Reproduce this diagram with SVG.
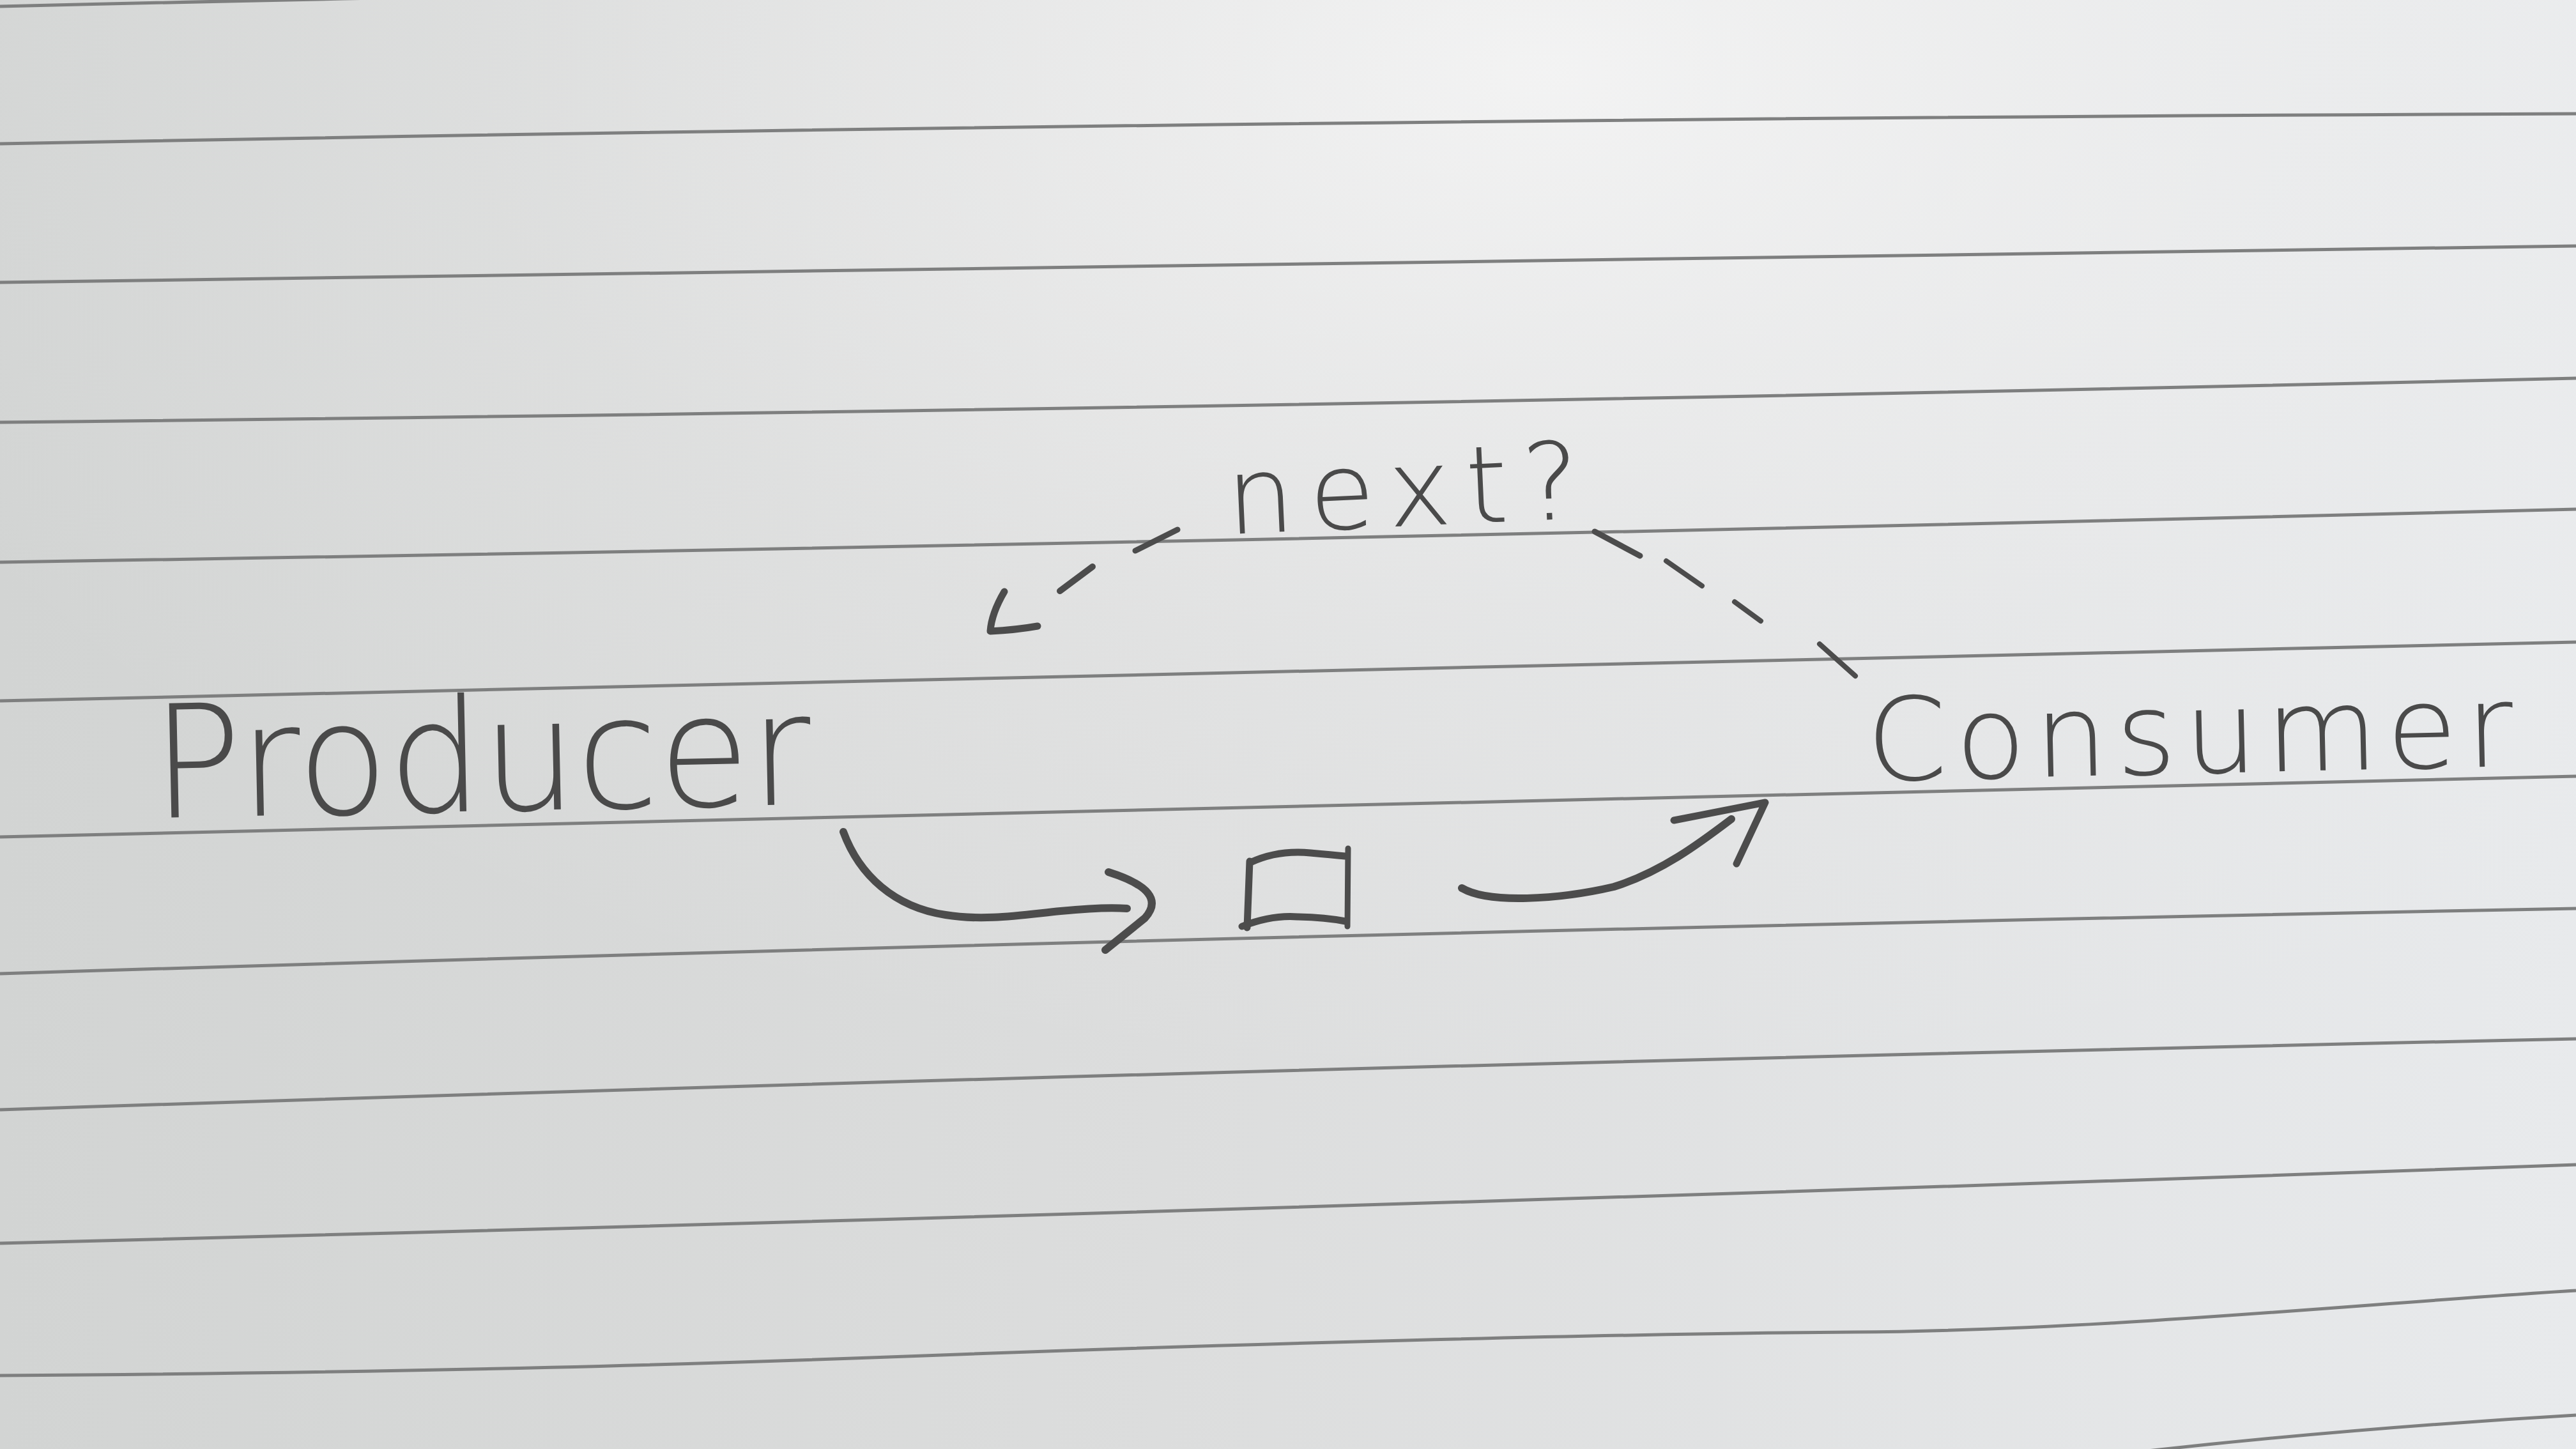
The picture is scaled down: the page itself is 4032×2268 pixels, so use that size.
<svg xmlns="http://www.w3.org/2000/svg" width="4032" height="2268" viewBox="0 0 4032 2268">
  <defs>
    <linearGradient id="paper" x1="0" y1="0" x2="1" y2="0">
      <stop offset="0" stop-color="#d2d4d3"/>
      <stop offset="0.45" stop-color="#dcdddd"/>
      <stop offset="1" stop-color="#e8eaec"/>
    </linearGradient>
    <radialGradient id="glow" cx="0.6" cy="0.05" r="0.7">
      <stop offset="0" stop-color="#f6f6f6" stop-opacity="0.85"/>
      <stop offset="0.6" stop-color="#f0f0f0" stop-opacity="0.25"/>
      <stop offset="1" stop-color="#f0f0f0" stop-opacity="0"/>
    </radialGradient>
  </defs>
  <style>
    .rule { fill: none; stroke: #7e7f7f; stroke-width: 5; }
    .pencil { fill: none; stroke: #4c4c4c; stroke-linecap: round; stroke-linejoin: round; }
    .hand { font-family: "DejaVu Sans", "Liberation Sans", sans-serif; font-weight: 200; fill: #4a4a4a; }
  </style>

  <rect x="0" y="0" width="4032" height="2268" fill="url(#paper)"/>
  <rect x="0" y="0" width="4032" height="2268" fill="url(#glow)"/>

  <g id="ruled-lines">
    <path class="rule" d="M0,10 Q2016,-38 4032,-38"/>
    <path class="rule" d="M0,225 Q2016,186 4032,178"/>
    <path class="rule" d="M0,442 Q2016,414 4032,385"/>
    <path class="rule" d="M0,661 Q2016,640 4032,592"/>
    <path class="rule" d="M0,880 Q2016,848 4032,797"/>
    <path class="rule" d="M0,1097 Q2016,1053 4032,1005"/>
    <path class="rule" d="M0,1310 Q2016,1254 4032,1215"/>
    <path class="rule" d="M0,1524 Q2016,1461 4032,1422"/>
    <path class="rule" d="M0,1737 Q2016,1670 4032,1626"/>
    <path class="rule" d="M0,1946 Q2016,1895 4032,1823"/>
    <path class="rule" d="M0,2153 C700,2148 1100,2135 1500,2120 S2500,2088 2900,2085 S3700,2040 4032,2020"/>
    <path class="rule" d="M3200,2290 Q3600,2240 4032,2215"/>
  </g>

  <g id="producer">
    <text class="hand" x="240" y="1280" font-size="245" textLength="1031" lengthAdjust="spacingAndGlyphs" transform="rotate(-1.2 240 1280)">Producer</text>
  </g>

  <g id="consumer">
    <text class="hand" x="2923" y="1222" font-size="180" textLength="1012" lengthAdjust="spacing" transform="rotate(-1.3 2923 1222)">Consumer</text>
  </g>

  <g id="item">
    <path class="pencil" stroke-width="11" d="M1956,1348 L1952,1452"/>
    <path class="pencil" stroke-width="11" d="M1957,1350 Q2000,1330 2051,1335 Q2085,1338 2105,1340"/>
    <path class="pencil" stroke-width="9" d="M2110,1328 L2109,1450"/>
    <path class="pencil" stroke-width="11" d="M1944,1450 Q1990,1432 2031,1435 Q2075,1436 2106,1442"/>
  </g>

  <g id="next-label">
    <text class="hand" x="1922" y="836" font-size="168" textLength="553" lengthAdjust="spacing" transform="rotate(-2.6 1922 836)">next?</text>
  </g>

  <g id="connectors">
    <g id="next-arrow">
      <path class="pencil" stroke-width="8" d="M2904,1058 L2848,1008"/>
      <path class="pencil" stroke-width="8" d="M2756,972 L2715,942"/>
      <path class="pencil" stroke-width="8" d="M2664,917 L2608,878"/>
      <path class="pencil" stroke-width="9" d="M2567,870 L2496,832"/>
      <path class="pencil" stroke-width="9" d="M1843,829 L1777,862"/>
      <path class="pencil" stroke-width="10" d="M1710,887 L1659,925"/>
      <path class="pencil" stroke-width="11" d="M1572,926 Q1552,960 1550,988 Q1590,986 1624,980"/>
    </g>
    <g id="produce-arrow">
      <path class="pencil" stroke-width="12" d="M1320,1302 C1345,1370 1400,1420 1480,1432 C1540,1442 1600,1432 1660,1426 C1700,1422 1740,1420 1764,1422"/>
      <path class="pencil" stroke-width="12" d="M1735,1365 Q1830,1395 1792,1437 L1730,1487"/>
    </g>
    <g id="consume-arrow">
      <path class="pencil" stroke-width="12" d="M2288,1390 C2330,1415 2440,1408 2526,1388 C2600,1365 2660,1320 2710,1282"/>
      <path class="pencil" stroke-width="11" d="M2620,1284 L2763,1256 L2718,1352"/>
    </g>
  </g>
</svg>
